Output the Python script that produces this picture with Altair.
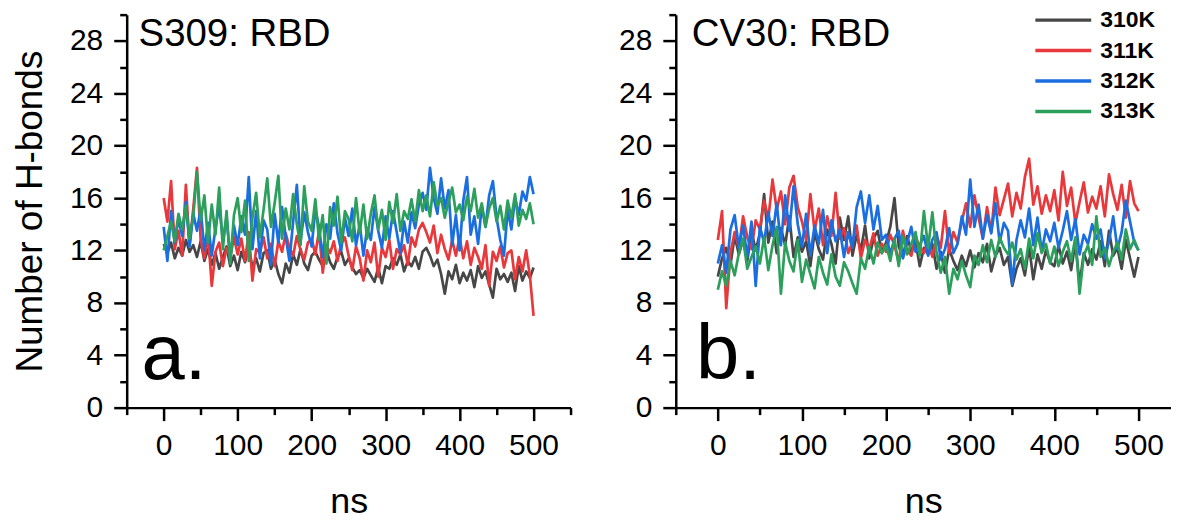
import altair as alt
import pandas as pd

FONT = "Liberation Sans"
SERIES = ["310K", "311K", "312K", "313K"]
COLORS = ["#474747", "#e8383b", "#1b6ee0", "#2c9f5c"]
TIME_NS = list(range(0, 501, 5))

# Panel a: S309 : RBD
A_310 = [12.5, 11.8, 12.6, 11.4, 12.2, 11.6, 12.8, 11.9, 12.4, 11.5,
         12.7, 11.2, 12.1, 10.9, 11.8, 10.6, 11.5, 12.3, 10.8, 11.6,
         10.5, 11.9, 11.1, 12.2, 10.7, 11.4, 10.4, 11.8, 12.0, 10.6,
         11.3, 10.2, 9.5, 11.0, 10.3, 11.7, 10.9, 12.1, 11.0, 10.5,
         11.6, 11.9, 11.3, 10.8, 12.0, 11.1, 10.6, 11.5, 11.9, 10.9,
         11.4, 10.7, 10.2, 10.5, 9.9, 10.6, 10.1, 9.6, 10.7, 9.5,
         10.8, 10.6, 11.4, 10.9, 11.7, 10.4, 11.2, 10.8, 11.5, 10.6,
         11.9, 12.2, 11.6, 10.8, 11.3, 10.2, 8.7, 10.4, 9.8, 10.9,
         9.5, 10.3, 9.7, 10.5, 9.2, 10.8, 9.9, 10.4, 9.4, 8.4,
         10.6, 9.8, 10.2, 9.6, 10.3, 8.9, 10.8, 9.7, 10.4, 9.9,
         10.7]
A_311 = [16.0, 14.2, 17.3, 12.1, 13.5, 11.6, 17.0, 12.4, 15.2, 18.3,
         12.8, 11.4, 13.2, 9.3, 11.9, 12.6, 10.8, 12.2, 11.5, 13.0,
         11.7, 12.9, 11.2, 13.4, 9.7, 12.1, 11.8, 13.0, 11.4, 12.5,
         10.8, 12.7, 11.9, 13.3, 12.2, 11.6, 13.1, 12.0, 11.3, 12.6,
         12.9, 11.7, 13.5, 10.3, 12.4, 11.8, 12.7, 11.2, 12.5, 13.0,
         11.6, 10.5, 12.3, 11.4, 9.7, 12.0, 11.1, 12.6, 10.0, 12.2,
         11.5, 12.8, 10.6, 12.1, 11.7, 12.4, 10.9, 13.0, 12.3, 13.6,
         14.1, 13.4, 12.6, 13.9, 11.8, 13.2, 12.1, 11.3, 12.8, 11.6,
         13.0, 11.4, 12.7, 10.9, 12.2, 11.5, 10.6, 12.4, 9.3, 11.9,
         11.2, 12.3, 10.7, 11.8, 12.0, 9.8, 11.5, 10.4, 12.0, 10.1,
         7.0]
A_312 = [13.8, 11.2, 15.0, 12.6, 14.4, 13.1, 15.7, 12.3, 14.8, 13.5,
         15.2, 12.0, 14.1, 11.6, 13.7, 15.4, 12.8, 14.5, 11.3, 13.9,
         12.4, 14.6, 13.2, 17.6, 12.1, 15.0, 11.4, 14.3, 13.6, 10.9,
         14.8, 12.6, 15.3, 13.0, 11.2, 14.2, 17.0, 12.7, 14.9, 13.4,
         12.3, 15.1, 13.8, 11.5, 14.0, 12.9, 15.6, 13.3, 12.0, 14.5,
         13.1, 15.2, 12.4, 14.0, 11.6, 13.7, 12.8, 15.3, 13.5, 12.2,
         14.6, 12.9, 15.0, 13.4, 11.8, 14.2, 12.6, 14.9, 13.7, 15.5,
         16.4, 15.1, 18.3, 16.0, 14.8, 17.5, 15.2, 16.6, 12.4, 14.7,
         12.0, 15.8, 17.6, 13.2, 14.6, 12.5, 15.4, 13.8, 16.2, 17.3,
         14.5, 12.8, 11.6, 15.1, 13.6, 16.0, 14.7, 16.5, 15.8, 17.6,
         16.3]
A_313 = [12.0, 13.1, 14.2, 12.7, 14.8, 13.6, 15.4, 12.9, 14.6, 18.0,
         14.3, 16.2, 12.6, 15.5, 13.2, 16.8, 12.1, 15.0, 11.0, 14.7,
         16.0, 13.4, 15.8, 11.2, 14.5, 16.4, 13.0, 15.1, 17.5, 13.8,
         15.6, 17.7, 12.9, 15.2, 13.6, 16.3, 14.0, 12.4, 16.9, 14.2,
         13.5, 15.9, 12.8, 14.7, 11.0, 15.3, 13.9, 16.1, 12.6, 15.0,
         14.4, 12.7, 16.0, 13.3, 15.5, 12.9, 14.8, 16.2, 13.6, 15.1,
         12.8, 15.7, 14.1, 16.3, 13.5, 15.0, 14.4, 15.9, 14.2, 16.6,
         15.0, 16.2, 14.6, 17.2, 15.4, 16.0, 14.5, 15.7, 16.8, 14.9,
         15.5, 14.3, 16.1, 15.0, 16.7, 14.5, 15.6, 13.8, 15.2, 16.0,
         14.2, 15.4, 13.6, 15.8, 14.5, 16.3, 13.9, 15.1, 14.4, 15.6,
         14.0]

# Panel b: CV30 : RBD
B_310 = [10.0, 11.4, 12.2, 10.9, 13.1, 11.7, 12.8, 11.2, 13.5, 12.0,
         13.3, 16.3, 12.6, 14.2, 11.8, 13.7, 12.4, 14.6, 11.5, 13.0,
         11.9, 12.7, 10.8, 13.4, 12.1, 11.3, 13.6, 12.5, 11.0, 14.5,
         12.8, 14.6, 11.6, 13.2, 12.0, 13.9, 11.4, 12.9, 13.5, 11.8,
         12.6, 13.8, 16.0, 12.3, 11.5, 13.1, 11.9, 12.7, 10.8, 12.2,
         11.7, 12.5, 10.6, 11.9, 10.3, 12.1, 11.2, 10.5, 11.6, 10.8,
         12.0, 10.7, 11.8, 11.1, 12.5, 10.4, 11.6, 12.2, 10.9, 11.5,
         9.3, 10.6, 11.4, 10.1, 12.3, 9.8, 11.7, 10.6, 12.0, 11.1,
         10.8, 12.4, 11.0, 11.9, 10.5, 12.6, 9.4, 11.8, 10.9, 12.1,
         11.3, 12.7, 10.8, 13.5, 11.6, 12.2, 10.6, 12.8, 11.4, 10.0,
         11.5]
B_311 = [12.8, 15.0, 7.6, 11.8, 13.4, 12.2, 14.6, 13.0, 12.1, 14.3,
         13.6, 15.8, 14.4, 17.4, 15.1, 16.5, 14.0, 16.8, 17.7, 15.3,
         14.2, 12.8, 16.3, 13.5, 15.2, 12.4, 14.6, 13.1, 16.4, 12.9,
         13.7, 11.8, 12.6, 13.9, 11.4, 12.8, 12.1, 13.3, 11.6, 12.5,
         11.9, 13.2, 12.4, 11.1, 13.5, 12.0, 11.6, 13.0, 12.3, 11.8,
         12.7, 11.5, 13.1, 12.2, 15.0, 11.8, 13.4, 12.6, 14.2, 15.6,
         13.8, 16.2, 14.5, 12.9, 15.3, 13.4, 16.8, 14.7, 15.9, 17.1,
         14.6, 16.4, 15.2, 17.6, 19.0, 15.5, 16.9, 14.8, 16.2, 15.0,
         16.6, 14.3, 18.0, 15.4, 16.8, 14.1, 15.7, 17.2, 14.9, 16.1,
         15.2, 16.9, 14.6, 17.8, 16.3, 15.1, 17.0, 14.5, 17.3, 15.6,
         15.0]
B_312 = [11.0, 12.4, 10.3, 13.6, 14.7, 12.2, 13.9, 11.5, 14.2, 9.3,
         13.8, 12.6, 14.9, 13.1, 15.6, 12.4, 16.2, 13.5, 16.9, 14.0,
         12.3, 14.8, 11.6, 13.9, 12.5, 15.1, 11.8, 14.3, 12.7, 13.6,
         11.5, 13.4, 12.2, 15.3, 16.5, 14.1, 16.2, 13.6, 15.4, 12.8,
         13.2, 11.7, 12.9, 13.5, 11.4, 12.6, 13.8, 11.9, 12.4, 13.1,
         11.6, 12.8, 13.4, 11.3, 12.1, 13.7, 11.8, 12.5, 14.6, 13.2,
         17.4, 13.8, 15.5, 12.9, 14.7, 13.3, 15.6, 12.6, 14.1, 13.5,
         9.4, 12.8, 14.3, 13.0, 15.2, 12.4, 14.5, 11.9, 13.6, 12.7,
         14.1, 12.2, 13.5, 15.0, 12.8, 14.4, 11.7, 13.2, 12.5, 14.0,
         12.9, 13.6, 11.4, 12.7, 14.6, 12.1, 13.4, 15.8, 14.2, 12.6,
         12.0]
B_313 = [9.0, 10.4, 9.3, 11.2, 10.1, 11.8, 12.9, 10.6, 11.5, 12.3,
         11.0, 13.0, 10.5, 12.4, 13.8, 8.7, 12.6, 11.2, 10.4, 12.8,
         9.6, 11.3, 10.2, 9.1, 11.5, 10.3, 9.4, 11.7, 10.0, 9.3,
         11.1, 10.4, 9.5, 8.7, 11.4, 10.6, 12.3, 11.0, 12.6, 11.8,
         12.4, 11.2, 12.9, 10.8, 13.1, 11.7, 12.5, 13.4, 11.6, 15.0,
         12.2, 14.9, 11.8, 10.3, 11.5, 8.7, 10.6, 9.8, 11.2, 10.1,
         9.2, 11.6, 10.9, 12.4, 11.1, 12.8, 11.5, 13.0, 12.2, 11.7,
         12.6, 11.3, 12.1, 10.6, 12.9, 11.4, 13.3, 11.8, 12.5, 11.0,
         12.3, 10.8, 11.9, 12.7, 11.2, 13.0, 8.7, 11.6, 12.4, 10.9,
         14.6, 11.5, 12.2, 10.8, 11.9, 12.6, 11.3, 13.6, 12.1, 12.8,
         12.0]

PANEL_A_TITLE = "S309: RBD"
PANEL_B_TITLE = "CV30: RBD"
Y_TITLE = "Number of H-bonds"
X_TITLE = "ns"


def frame(series_lists):
    rows = []
    for name, vals in zip(SERIES, series_lists):
        for t, v in zip(TIME_NS, vals):
            rows.append({"ns": t, "hb": v, "T": name})
    return pd.DataFrame(rows)


legend = alt.Legend(
    orient="none", legendX=909, legendY=-6.5, title=None,
    symbolType="stroke", symbolSize=3136, symbolStrokeWidth=3.5,
    clipHeight=24, rowPadding=6.5, labelOffset=7, padding=0,
    labelFont=FONT, labelFontSize=23, labelFontWeight="bold", labelColor="black",
)
color = alt.Color("T:N", scale=alt.Scale(domain=SERIES, range=COLORS), legend=legend)

AX = dict(domainColor="black", domainWidth=2.5, tickColor="black", tickWidth=2.5,
          labelColor="black", labelFont=FONT, labelFontSize=30, grid=False,
          labelOverlap=False, labelFlush=False, tickCount=60, format="d",
          titleFont=FONT, titleColor="black", titleFontWeight="normal")


def x_axis(ticks):
    return alt.Axis(values=ticks,
                    labelExpr="datum.value >= 0 && datum.value % 100 == 0 ? datum.label : ''",
                    tickSize={"condition": {"test": "datum.value % 100 == 0", "value": 13}, "value": 7},
                    labelPadding=10, title=X_TITLE, titleFontSize=36,
                    titlePadding=22, minExtent=55, maxExtent=55, **AX)


def y_axis(title):
    kw = dict(values=list(range(0, 31, 2)),
              labelExpr="datum.value % 4 == 0 ? datum.label : ''",
              tickSize={"condition": {"test": "datum.value % 4 == 0", "value": 13}, "value": 7},
              labelPadding=11, minExtent=55, maxExtent=55, **AX)
    if title:
        kw.update(title=title, titleFontSize=37, titlePadding=22)
    else:
        kw.update(title=None)
    return alt.Axis(**kw)


def panel(series_lists, xmax, ticks, width, title, letter, ytitle, tx, lx):
    df = frame(series_lists)
    xs = alt.Scale(domain=[-50, xmax], nice=False, zero=False)
    ys = alt.Scale(domain=[0, 30], nice=False, zero=False)
    lines = alt.Chart(df).mark_line(strokeWidth=2.7, strokeJoin="round").encode(
        x=alt.X("ns:Q", scale=xs, axis=x_axis(ticks)),
        y=alt.Y("hb:Q", scale=ys, axis=y_axis(ytitle)),
        color=color,
    )
    lab = pd.DataFrame({"x": [tx], "y": [28.55], "t": [title]})
    title_txt = alt.Chart(lab).mark_text(
        align="left", baseline="middle", font=FONT, fontSize=38.5, color="black"
    ).encode(x=alt.X("x:Q", scale=xs), y=alt.Y("y:Q", scale=ys), text="t:N")
    let = pd.DataFrame({"x": [lx], "y": [2.15], "t": [letter]})
    letter_txt = alt.Chart(let).mark_text(
        align="left", baseline="alphabetic", font=FONT, fontSize=78, color="black"
    ).encode(x=alt.X("x:Q", scale=xs), y=alt.Y("y:Q", scale=ys), text="t:N")
    return alt.layer(lines, title_txt, letter_txt).properties(width=width, height=394)


left = panel([A_310, A_311, A_312, A_313], 550, list(range(-50, 551, 50)), 445,
             PANEL_A_TITLE, "a.", Y_TITLE, -34, -30)
right = panel([B_310, B_311, B_312, B_313], 538.1, list(range(-50, 501, 50)), 496,
              PANEL_B_TITLE, "b.", None, -31, -26)

chart = alt.hconcat(left, right, spacing=45.5).properties(
    padding={"left": 4, "top": -9, "right": 0, "bottom": 0},
    background="white",
).configure_view(stroke=None)

chart.save("out.html", embed_options={"renderer": "svg", "actions": False})
